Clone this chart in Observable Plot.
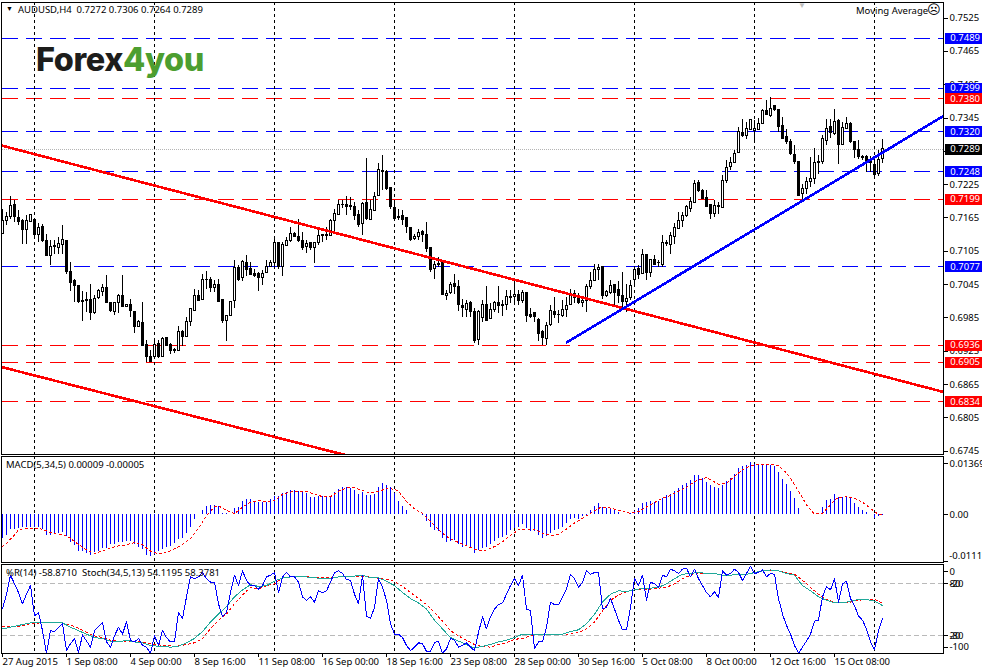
<!DOCTYPE html>
<html><head><meta charset="utf-8">
<script src="https://cdn.jsdelivr.net/npm/d3@7"></script>
<script src="https://cdn.jsdelivr.net/npm/@observablehq/plot@0.6"></script>
<style>
html,body{margin:0;padding:0;background:#fff}
#root{position:relative;width:982px;height:671px;overflow:hidden;font-family:"Noto Sans",sans-serif}
#root svg{position:absolute;left:0;background:transparent;shape-rendering:crispEdges}
#root svg text{shape-rendering:auto}
.t{position:absolute;font-size:9.5px;line-height:12px;color:#000;white-space:pre}
.logo{position:absolute;left:36px;top:41px;font:800 32.4px/38px Inter,sans-serif;letter-spacing:-.4px;white-space:pre}
</style></head><body><div id="root"></div>
<script>
// AUDUSD H4 candles, prices in 1/10000
const openPips=[7137,7159,7167,7188,7165,7159,7143,7157,7162,7134,7149,7124,7096,7115,7110,7116,7124,7068,7052,7042,7016,7017,7018,6993,7020,7031,7039,7012,6995,7011,7024,7004,7008,6996,6968,6976,6937,6915,6914,6938,6914,6949,6936,6927,6926,6960,6950,6977,6998,7025,7018,7054,7054,7039,7045,7017,6979,6988,7015,7074,7056,7084,7073,7064,7064,7056,7065,7077,7083,7120,7076,7115,7123,7137,7130,7124,7112,7120,7110,7119,7134,7132,7133,7159,7170,7189,7189,7187,7185,7171,7154,7192,7162,7178,7204,7250,7247,7219,7183,7167,7168,7165,7147,7127,7130,7140,7134,7111,7073,7082,7083,7024,7029,7046,7041,7006,7000,7012,6996,6945,6984,7009,6983,7000,7011,7009,7008,7023,7022,7027,7015,7030,6991,6994,6981,6959,6947,6972,6996,6991,6988,6999,7008,7028,7022,7012,7015,7040,7052,7072,7076,7024,7029,7045,7035,7025,7014,7020,7053,7073,7064,7098,7066,7089,7084,7081,7120,7117,7130,7146,7159,7168,7182,7192,7228,7214,7201,7189,7173,7186,7183,7232,7256,7264,7282,7318,7312,7324,7321,7324,7334,7357,7348,7366,7360,7331,7310,7302,7278,7266,7208,7217,7229,7236,7264,7265,7304,7329,7316,7340,7296,7326,7335,7302,7288,7275,7275,7270,7261,7244,7272];
const highPips=[7180,7175,7203,7196,7178,7163,7169,7171,7163,7155,7153,7136,7124,7124,7130,7151,7125,7085,7055,7043,7032,7031,7045,7026,7037,7046,7061,7013,7013,7027,7061,7008,7019,6997,6980,7012,6945,6927,6946,6945,6950,6949,6938,6929,6969,6962,6986,7002,7037,7034,7064,7068,7057,7052,7055,7019,6989,7014,7088,7079,7088,7097,7085,7073,7067,7070,7089,7089,7131,7121,7121,7130,7148,7138,7163,7139,7124,7121,7121,7148,7136,7148,7163,7181,7196,7197,7203,7202,7193,7178,7193,7273,7196,7211,7263,7277,7250,7220,7196,7181,7178,7166,7148,7136,7145,7143,7157,7112,7087,7093,7084,7034,7049,7063,7052,7019,7017,7014,7001,6998,7016,7041,7010,7014,7041,7016,7034,7034,7055,7034,7034,7030,7001,6995,6983,6962,6977,7007,7021,6998,7016,7022,7037,7035,7029,7022,7046,7067,7082,7081,7076,7034,7052,7046,7050,7067,7046,7052,7077,7079,7109,7100,7091,7097,7088,7133,7124,7139,7155,7174,7175,7187,7202,7232,7232,7217,7214,7190,7196,7193,7241,7269,7274,7286,7328,7343,7337,7343,7340,7345,7361,7376,7382,7367,7361,7346,7325,7307,7295,7266,7225,7238,7274,7290,7277,7313,7343,7343,7361,7343,7337,7346,7337,7302,7304,7277,7277,7275,7271,7287,7306];
const lowPips=[7136,7151,7163,7157,7152,7118,7118,7157,7127,7121,7121,7096,7079,7100,7100,7100,7064,7033,7013,7010,6979,6995,6980,6991,7019,7023,7010,6995,6990,6992,7004,7004,6986,6957,6967,6934,6905,6905,6911,6911,6914,6935,6919,6920,6925,6933,6950,6969,6997,7016,7017,7037,7031,7030,7013,6974,6943,6988,7001,7051,7051,7059,7063,7058,7032,7043,7065,7076,7073,7073,7059,7115,7121,7129,7121,7107,7101,7107,7083,7115,7121,7124,7133,7141,7170,7182,7169,7178,7160,7148,7133,7160,7161,7178,7204,7214,7214,7181,7160,7160,7151,7137,7123,7125,7125,7121,7103,7067,7055,7076,7026,7016,7027,7028,6997,6986,6986,6986,6939,6936,6977,6978,6982,6995,6992,6987,6999,7010,7007,7007,7010,6977,6983,6977,6942,6935,6935,6970,6983,6975,6986,6986,7007,7010,7009,7003,6995,7037,7051,7052,7019,7022,7027,7007,7010,6998,6995,7017,7040,7055,7063,7052,7058,7079,7076,7075,7113,7100,7118,7145,7148,7166,7175,7192,7211,7198,7184,7163,7165,7172,7183,7227,7251,7263,7281,7310,7306,7322,7299,7323,7334,7349,7346,7356,7319,7306,7298,7278,7262,7203,7195,7208,7220,7226,7244,7262,7295,7309,7313,7262,7295,7325,7299,7273,7271,7268,7247,7247,7234,7239,7264];
const closePips=[7159,7167,7187,7166,7157,7144,7160,7170,7134,7147,7124,7096,7113,7112,7118,7125,7067,7047,7042,7013,7014,7015,6993,7019,7034,7039,7011,6997,7012,7024,7004,7008,6997,6968,6978,6934,6914,6905,6936,6915,6947,6935,6925,6926,6960,6950,6978,7001,7024,7016,7053,7053,7039,7044,7014,6980,6988,7014,7074,7054,7085,7072,7063,7060,7056,7064,7077,7083,7120,7076,7116,7124,7136,7130,7123,7110,7118,7110,7120,7132,7133,7134,7160,7173,7189,7188,7184,7185,7169,7153,7191,7164,7180,7202,7251,7247,7218,7185,7164,7165,7162,7148,7125,7131,7138,7135,7109,7071,7081,7081,7026,7028,7045,7040,7008,7002,7010,6996,6944,6995,7008,6980,6999,7012,7006,7006,7023,7021,7026,7016,7030,6988,6986,6986,6956,6949,6970,6997,6990,6990,6999,7006,7028,7020,7011,7016,7041,7051,7071,7074,7024,7032,7043,7029,7024,7013,7019,7043,7072,7063,7098,7066,7089,7081,7083,7119,7118,7133,7147,7159,7169,7185,7194,7226,7213,7199,7184,7173,7186,7185,7232,7255,7264,7280,7319,7312,7325,7341,7326,7335,7357,7350,7362,7360,7328,7308,7301,7280,7265,7205,7217,7229,7235,7264,7266,7307,7326,7318,7337,7296,7327,7335,7301,7288,7274,7273,7268,7264,7243,7270,7289];
// MACD histogram and signal (read in units of 0.876e-4); signal read at the listed bars
const macdUnit=0.876e-4;
const macdHist=[-64,-54,-38,-38,-36,-34,-33,-34,-33,-34,-40,-54,-54,-49,-49,-47,-58,-74,-82,-97,-98,-103,-109,-101,-97,-89,-90,-79,-79,-73,-73,-71,-72,-79,-88,-92,-109,-112,-105,-97,-94,-88,-85,-76,-67,-63,-49,-34,-13,1,12,22,24,26,22,4,3,1,18,21,36,40,40,36,33,33,34,40,49,49,58,60,65,65,63,60,58,46,46,49,49,49,49,60,67,74,73,70,65,55,61,52,52,54,73,83,79,72,58,36,22,13,2,1,1,-2,-18,-35,-43,-45,-64,-74,-72,-69,-79,-88,-82,-89,-104,-96,-89,-88,-79,-72,-63,-61,-54,-43,-36,-33,-27,-36,-45,-45,-54,-64,-58,-49,-43,-40,-33,-24,-13,-9,-12,-4,-1,12,22,30,20,18,15,13,7,1,1,3,9,18,31,33,35,34,36,45,51,55,63,70,78,85,91,105,105,98,87,79,73,70,78,89,98,107,123,130,132,139,136,135,134,132,132,130,114,96,80,63,45,16,1,1,1,2,4,21,38,42,54,47,47,46,43,31,21,13,7,2,-9,-4,-2];
const macdSigBars=[0,1,3,4,5,7,9,11,13,15,17,19,21,23,25,27,29,31,33,35,37,39,41,43,45,47,49,51,53,54,56,58,60,62,64,66,68,70,72,74,76,78,80,82,84,86,88,90,92,94,96,98,99,101,103,105,107,109,111,113,115,117,119,121,123,125,127,129,131,133,135,137,139,141,143,145,147,149,151,153,155,157,159,161,163,165,167,169,171,173,175,176,177,179,181,183,185,187,189,191,193,194,195,196,197,199,201,203,205,207,208,209,211,213,215,217,218,219,220];
const macdSig=[-85,-76,-54,-40,-38,-36,-36,-43,-51,-52,-63,-79,-94,-103,-97,-88,-83,-80,-74,-80,-97,-105,-101,-91,-79,-63,-36,-3,22,24,12,3,21,34,38,36,38,55,61,63,63,55,49,49,63,72,72,65,58,63,70,69,63,36,16,4,-18,-40,-58,-69,-79,-87,-96,-94,-85,-72,-55,-40,-38,-38,-49,-55,-53,-38,-22,-9,4,18,21,15,11,4,9,21,33,45,52,63,74,89,97,100,94,82,85,103,121,131,135,135,134,131,122,112,98,63,27,2,4,27,40,46,49,45,34,18,7,3,-1];
// Williams %R (every bar)
const wpr=[-49,-32,-10,-20,-30,-43,-32,-22,-57,-53,-74,-100,-74,-75,-70,-66,-97,-89,-83,-99,-79,-86,-93,-74,-69,-65,-87,-93,-80,-70,-78,-64,-85,-87,-83,-91,-93,-100,-80,-91,-74,-82,-87,-87,-53,-60,-35,-12,-14,-12,-7,-14,-18,-18,-43,-58,-53,-30,-10,-22,-5,-16,-22,-22,-26,-22,-12,-10,-7,-30,-12,-7,-12,-12,-18,-35,-39,-35,-41,-28,-30,-28,-18,-7,-5,-8,-15,-16,-32,-43,-10,-57,-60,-47,-14,-24,-39,-66,-78,-78,-82,-91,-97,-93,-88,-89,-98,-98,-88,-86,-100,-95,-83,-85,-93,-91,-88,-93,-97,-76,-58,-72,-58,-49,-44,-42,-32,-22,-14,-22,-10,-49,-51,-95,-87,-87,-70,-41,-44,-44,-35,-26,-9,-14,-24,-18,-5,-9,-7,-7,-49,-47,-37,-49,-62,-73,-73,-47,-14,-22,-10,-39,-18,-20,-24,-10,-12,-3,-5,-8,-3,-2,-12,-3,-14,-22,-30,-35,-29,-36,-5,-10,-8,-3,-7,-16,-8,0,-8,-7,-4,-12,-8,-9,-37,-55,-68,-78,-91,-100,-93,-86,-78,-63,-62,-35,-23,-27,-14,-41,-20,-17,-37,-45,-57,-62,-72,-87,-96,-74,-60];
// Stochastic main, read at the listed bars
const stochMainBars=[0,4,7,9,13,15,17,19,21,23,25,27,29,31,33,35,37,39,42,44,46,48,50,52,54,56,58,60,62,64,66,68,70,72,74,76,78,80,82,84,86,88,90,92,94,96,98,100,102,104,106,108,110,112,114,116,118,120,122,124,126,128,130,132,134,136,138,140,142,144,146,148,150,152,154,156,158,160,162,164,166,168,170,172,174,176,178,180,182,184,186,188,190,192,194,196,198,200,202,204,206,208,210,212,214,216,218,220];
const stochMain=[28,32,35,35,35,35,30,26,22,18,17,14,13,15,13,12,9,8,7,8,12,17,25,36,45,54,65,73,79,77,78,83,87,88,88,88,87,86,86,88,88,89,90,87,87,83,78,70,63,58,51,38,28,18,14,10,6,8,10,13,15,18,22,22,22,22,22,22,25,27,34,45,59,68,72,71,73,75,75,76,80,86,91,92,93,92,92,90,90,91,91,93,95,96,95,92,90,78,72,65,61,58,58,60,62,62,60,55];
const stochSigBars=[0,4,7,10,15,18,21,23,25,27,29,32,35,37,40,43,45,48,50,52,54,56,58,60,62,64,66,68,70,72,76,80,82,84,88,92,96,98,100,102,104,106,108,110,112,114,116,118,120,122,124,126,128,130,132,134,136,138,140,142,144,146,148,150,152,154,156,158,160,162,164,166,168,170,172,174,176,178,180,182,184,186,188,190,192,194,196,198,200,202,204,206,208,210,212,214,216,218,220];
const stochSig=[31,31,34,35,35,31,24,20,18,15,14,14,13,11,9,8,9,12,17,28,38,45,57,67,76,74,78,80,87,88,88,87,87,88,89,88,85,83,77,70,63,56,47,37,26,20,15,10,8,7,10,12,16,17,20,22,22,22,22,22,24,28,36,49,61,67,71,73,73,74,75,76,80,86,90,92,92,92,90,90,91,91,92,95,95,95,93,91,84,76,68,62,59,58,59,61,62,62,58];
// horizontal levels
const levelValues=[0.7489,0.7399,0.7380,0.7320,0.7248,0.7199,0.7077,0.6936,0.6905,0.6834];
const levelColors=["#0000ff","#0000ff","#ff0000","#0000ff","#0000ff","#ff0000","#0000ff","#ff0000","#ff0000","#ff0000"];
const lastPrice=0.7289;
// trend lines [bar, price]
const upperRed=[[0,0.7295],[235,0.6852]];
const lowerRed=[[0,0.6896],[90,0.6730]];
const blueTrend=[[141.1,0.6941],[235.3,0.7349]];
// axes
const priceTicks=[0.7525,0.7465,0.7405,0.7345,0.7285,0.7225,0.7165,0.7105,0.7045,0.6985,0.6925,0.6865,0.6805,0.6745];
const dateBars=[0,16,32,48,64,80,96,112,128,144,160,176,192,208];
const dateLabels=["27 Aug 2015","1 Sep 08:00","4 Sep 00:00","8 Sep 16:00","11 Sep 08:00","16 Sep 00:00","18 Sep 16:00","23 Sep 08:00","28 Sep 00:00","30 Sep 16:00","5 Oct 08:00","8 Oct 00:00","12 Oct 16:00","15 Oct 08:00"];
const sepBars=[8,38,68,98,128,158,188,218];

const candles=openPips.map((o,i)=>({i,o:o/1e4,h:highPips[i]/1e4,l:lowPips[i]/1e4,c:closePips[i]/1e4}));
const xs={domain:[0,235.25],range:[2,943],axis:null};   // 4 px per bar
const base={width:982,marginLeft:1,marginRight:39,style:{background:"transparent"}};
const F="Noto Sans";
const FS=9.5;
const axOpt={anchor:"right",tickSize:4,tickPadding:2,fontSize:FS,fontFamily:F,color:"#000"};
const sep=()=>Plot.ruleX(sepBars,{x:d=>d,stroke:"#000",strokeDasharray:"3,3"});
const line=(pts,color)=>Plot.line(pts,{x:d=>d[0],y:d=>d[1],stroke:color,strokeWidth:2.6,clip:true});
const labelX=236.95;

const main=Plot.plot({...base,height:455,marginTop:2,marginBottom:1,x:xs,
  y:{domain:[0.7489,0.6834],range:[37.6,401.2],axis:null},
  marks:[
    Plot.axisY(priceTicks,{...axOpt,tickFormat:d3.format(".4f")}),
    Plot.ruleY([lastPrice],{x1:0,x2:235.25,stroke:"#b4b4b4",strokeDasharray:"1,1"}),
    Plot.ruleY(levelValues,{y:d=>d,x1:0,x2:235.25,stroke:(d,i)=>levelColors[i],strokeDasharray:"16,8"}),
    sep(),
    Plot.ruleX(candles,{x:"i",y1:"l",y2:"h",stroke:"#000"}),
    Plot.rect(candles,{x1:d=>d.i-0.25,x2:d=>d.i+0.25,y1:"o",y2:"c",fill:d=>d.c>=d.o?"#fff":"#000",stroke:"#000"}),
    line(upperRed,"#ff0000"),line(lowerRed,"#ff0000"),line(blueTrend,"#0000ff"),
    Plot.frame({stroke:"#000"}),
    Plot.ruleY(levelValues,{y:d=>d,x1:235.7,x2:245,stroke:(d,i)=>levelColors[i],strokeWidth:11}),
    Plot.ruleY([lastPrice],{x1:235.7,x2:245,stroke:"#000",strokeWidth:11}),
    Plot.text(levelValues.concat(lastPrice),{x:labelX,y:d=>d,text:d=>d.toFixed(4),fill:"#fff",textAnchor:"start",fontSize:FS,fontFamily:F})
  ]});
main.style.top="0px";

const macd=Plot.plot({...base,height:108,marginTop:1,marginBottom:1,x:xs,
  y:{domain:[0.01369,-0.01117],range:[1,107],axis:null},
  marks:[
    sep(),
    Plot.ruleX(macdHist,{x:(d,i)=>i,y1:0,y2:d=>d*macdUnit,stroke:"#0000ff"}),
    Plot.line(macdSig,{x:(d,i)=>macdSigBars[i],y:d=>d*macdUnit,stroke:"#ff0000",strokeWidth:1,strokeDasharray:"2,3"}),
    Plot.frame({stroke:"#000"}),
    Plot.axisY([0],{...axOpt,tickFormat:d3.format(".2f")}),
    Plot.axisY([0.01369],{...axOpt,dy:7,tickFormat:d3.format(".5f")}),
    Plot.axisY([-0.01117],{...axOpt,dy:-1,tickFormat:()=>""}),
    Plot.text([-0.01117],{x:236.7,y:d=>d,dy:-7,text:()=>"-0.01117",textAnchor:"start",fontSize:FS,fontFamily:F})
  ]});
macd.style.top="455px";

const stoch=Plot.plot({...base,height:108,marginTop:1,marginBottom:18,x:xs,
  y:{domain:[0,-100],range:[3,89.7],axis:null},
  marks:[
    Plot.ruleY([-20,-80],{y:d=>d,x1:0,x2:235.25,stroke:"#b9b9b9",strokeDasharray:"5,3"}),
    sep(),
    Plot.line(stochSig,{x:(d,i)=>stochSigBars[i],y:d=>d-100,stroke:"#ff0000",strokeWidth:1,strokeDasharray:"2,3"}),
    Plot.line(stochMain,{x:(d,i)=>stochMainBars[i],y:d=>d-100,stroke:"#20a89a",strokeWidth:1}),
    Plot.line(wpr,{x:(d,i)=>i,y:d=>d,stroke:"#0000ff",strokeWidth:1}),
    Plot.frame({stroke:"#000"}),
    Plot.axisY([-20,-80],{...axOpt,tickFormat:d=>String(d)}),
    Plot.axisY([-20,-80],{...axOpt,tickSize:0,tickPadding:6,tickFormat:d=>String(d+100)}),
    Plot.axisY([0],{...axOpt,dy:5,tickFormat:()=>"0"}),
    Plot.axisY([-100],{...axOpt,dy:-6,tickFormat:d=>String(d)}),
    Plot.axisX(dateBars,{anchor:"bottom",tickSize:4,tickPadding:1,fontSize:FS,fontFamily:F,color:"#000",textAnchor:"start",
      tickFormat:d=>dateLabels[dateBars.indexOf(d)]})
  ]});
stoch.style.top="563px";

const root=document.getElementById("root");
root.append(main,macd,stoch);
const addText=(s,l,t,extra)=>{const d=document.createElement("div");d.className="t";d.textContent=s;d.style.left=l+"px";d.style.top=t+"px";if(extra)d.style.cssText+=extra;root.append(d);};
addText("▼",6,3,"font-size:7px;");
addText("AUDUSD,H4  0.7272 0.7306 0.7264 0.7289",18,4);
addText("Moving Average",856,5);
addText("☹",927,4,"font-family:'DejaVu Sans';font-size:13px;");
addText("▼",798,-1,"color:#bdbdbd;font-size:8px;");
addText("MACD(5,34,5) 0.00009 -0.00005",6,459);
addText("%R(14) -58.8710  Stoch(34,5,13) 54.1195 58.3781",6,567);
const logo=document.createElement("div");logo.className="logo";
logo.innerHTML='<span style="color:#1d1d1b">Forex</span><span style="color:#4c9e30">4you</span>';
root.append(logo);
</script></body></html>
